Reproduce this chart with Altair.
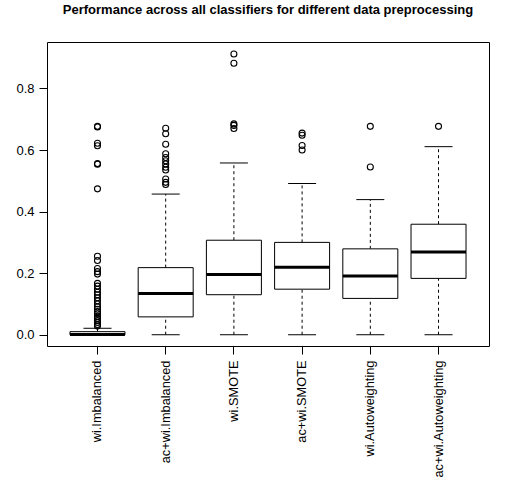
import altair as alt
import pandas as pd

groups = ["wi.Imbalanced", "ac+wi.Imbalanced", "wi.SMOTE", "ac+wi.SMOTE",
          "wi.Autoweighting", "ac+wi.Autoweighting"]
lower = [0.0, 0.0, 0.0, 0.0, 0.0, 0.0]
q1 = [0.0, 0.058, 0.130, 0.148, 0.118, 0.183]
median = [0.001, 0.134, 0.196, 0.219, 0.191, 0.269]
q3 = [0.010, 0.218, 0.307, 0.300, 0.279, 0.359]
upper = [0.021, 0.457, 0.558, 0.491, 0.439, 0.611]

out_wi_imb = [0.677, 0.675, 0.622, 0.614, 0.556, 0.554, 0.474,
              0.255, 0.241, 0.215, 0.205, 0.197, 0.167, 0.158, 0.148, 0.138,
              0.130, 0.120, 0.110, 0.100, 0.090, 0.083, 0.075, 0.068, 0.060,
              0.053, 0.046, 0.040, 0.033, 0.028]
out_acwi_imb = [0.671, 0.653, 0.619, 0.588, 0.576, 0.565, 0.555, 0.544,
                0.535, 0.506, 0.495, 0.488]
out_wi_smote = [0.912, 0.882, 0.685, 0.680, 0.670]
out_acwi_smote = [0.655, 0.648, 0.615, 0.600]
out_wi_auto = [0.677, 0.545]
out_acwi_auto = [0.677]
outliers = [out_wi_imb, out_acwi_imb, out_wi_smote, out_acwi_smote,
            out_wi_auto, out_acwi_auto]

stats = pd.DataFrame({"group": groups, "lower": lower, "q1": q1,
                      "median": median, "q3": q3, "upper": upper})
out_df = pd.DataFrame([{"group": g, "value": v}
                       for g, vals in zip(groups, outliers) for v in vals])

FONT = "Liberation Sans"

x_enc = alt.X("group:N", sort=groups,
              scale=alt.Scale(paddingInner=0, paddingOuter=0.24),
              axis=alt.Axis(title=None, labelAngle=270, domain=False,
                            tickSize=8, tickColor="black", labelPadding=6,
                            labelFont=FONT, labelFontSize=12.8,
                            labelColor="black"))
y_scale = alt.Scale(domain=[-0.0366, 0.951], nice=False, zero=False)
y_axis = alt.Axis(title=None, values=[0, 0.2, 0.4, 0.6, 0.8], format=".1f",
                  domain=False, grid=False, tickSize=8, tickColor="black",
                  labelPadding=5, labelFont=FONT, labelFontSize=13,
                  labelColor="black")

base = alt.Chart(stats)

whisk_lo = base.mark_rule(color="black", strokeDash=[3, 3], strokeWidth=1).encode(
    x=x_enc, y=alt.Y("lower:Q", scale=y_scale, axis=y_axis), y2="q1:Q")
whisk_hi = base.mark_rule(color="black", strokeDash=[3, 3], strokeWidth=1).encode(
    x=x_enc, y=alt.Y("q3:Q", scale=y_scale, axis=y_axis), y2="upper:Q")
box = base.mark_bar(size=55, fill="white", stroke="black", strokeWidth=1,
                    opacity=1).encode(
    x=x_enc, y=alt.Y("q1:Q", scale=y_scale, axis=y_axis), y2="q3:Q")
med = base.mark_tick(size=55, thickness=3, color="black", opacity=1).encode(
    x=x_enc, y=alt.Y("median:Q", scale=y_scale, axis=y_axis))
cap_lo = base.mark_tick(size=28, thickness=1, color="black", opacity=1).encode(
    x=x_enc, y=alt.Y("lower:Q", scale=y_scale, axis=y_axis))
cap_hi = base.mark_tick(size=28, thickness=1, color="black", opacity=1).encode(
    x=x_enc, y=alt.Y("upper:Q", scale=y_scale, axis=y_axis))
pts = alt.Chart(out_df).mark_point(shape="circle", filled=False, size=36,
                                   strokeWidth=1.1, color="black", opacity=1).encode(
    x=x_enc, y=alt.Y("value:Q", scale=y_scale, axis=y_axis))

chart = alt.layer(whisk_lo, whisk_hi, box, med, cap_lo, cap_hi, pts).properties(
    width=442, height=304,
    title=alt.Title("Performance across all classifiers for different data preprocessing",
                    font=FONT, fontSize=13, fontWeight="bold", color="black",
                    anchor="middle", baseline="alphabetic", offset=15),
    autosize=alt.AutoSizeParams(type="none"),
    padding={"left": 47, "top": 42, "right": 27, "bottom": 133},
).configure_view(stroke="black", strokeWidth=1)

chart.save("out.html", embed_options={"renderer": "svg", "actions": False})
